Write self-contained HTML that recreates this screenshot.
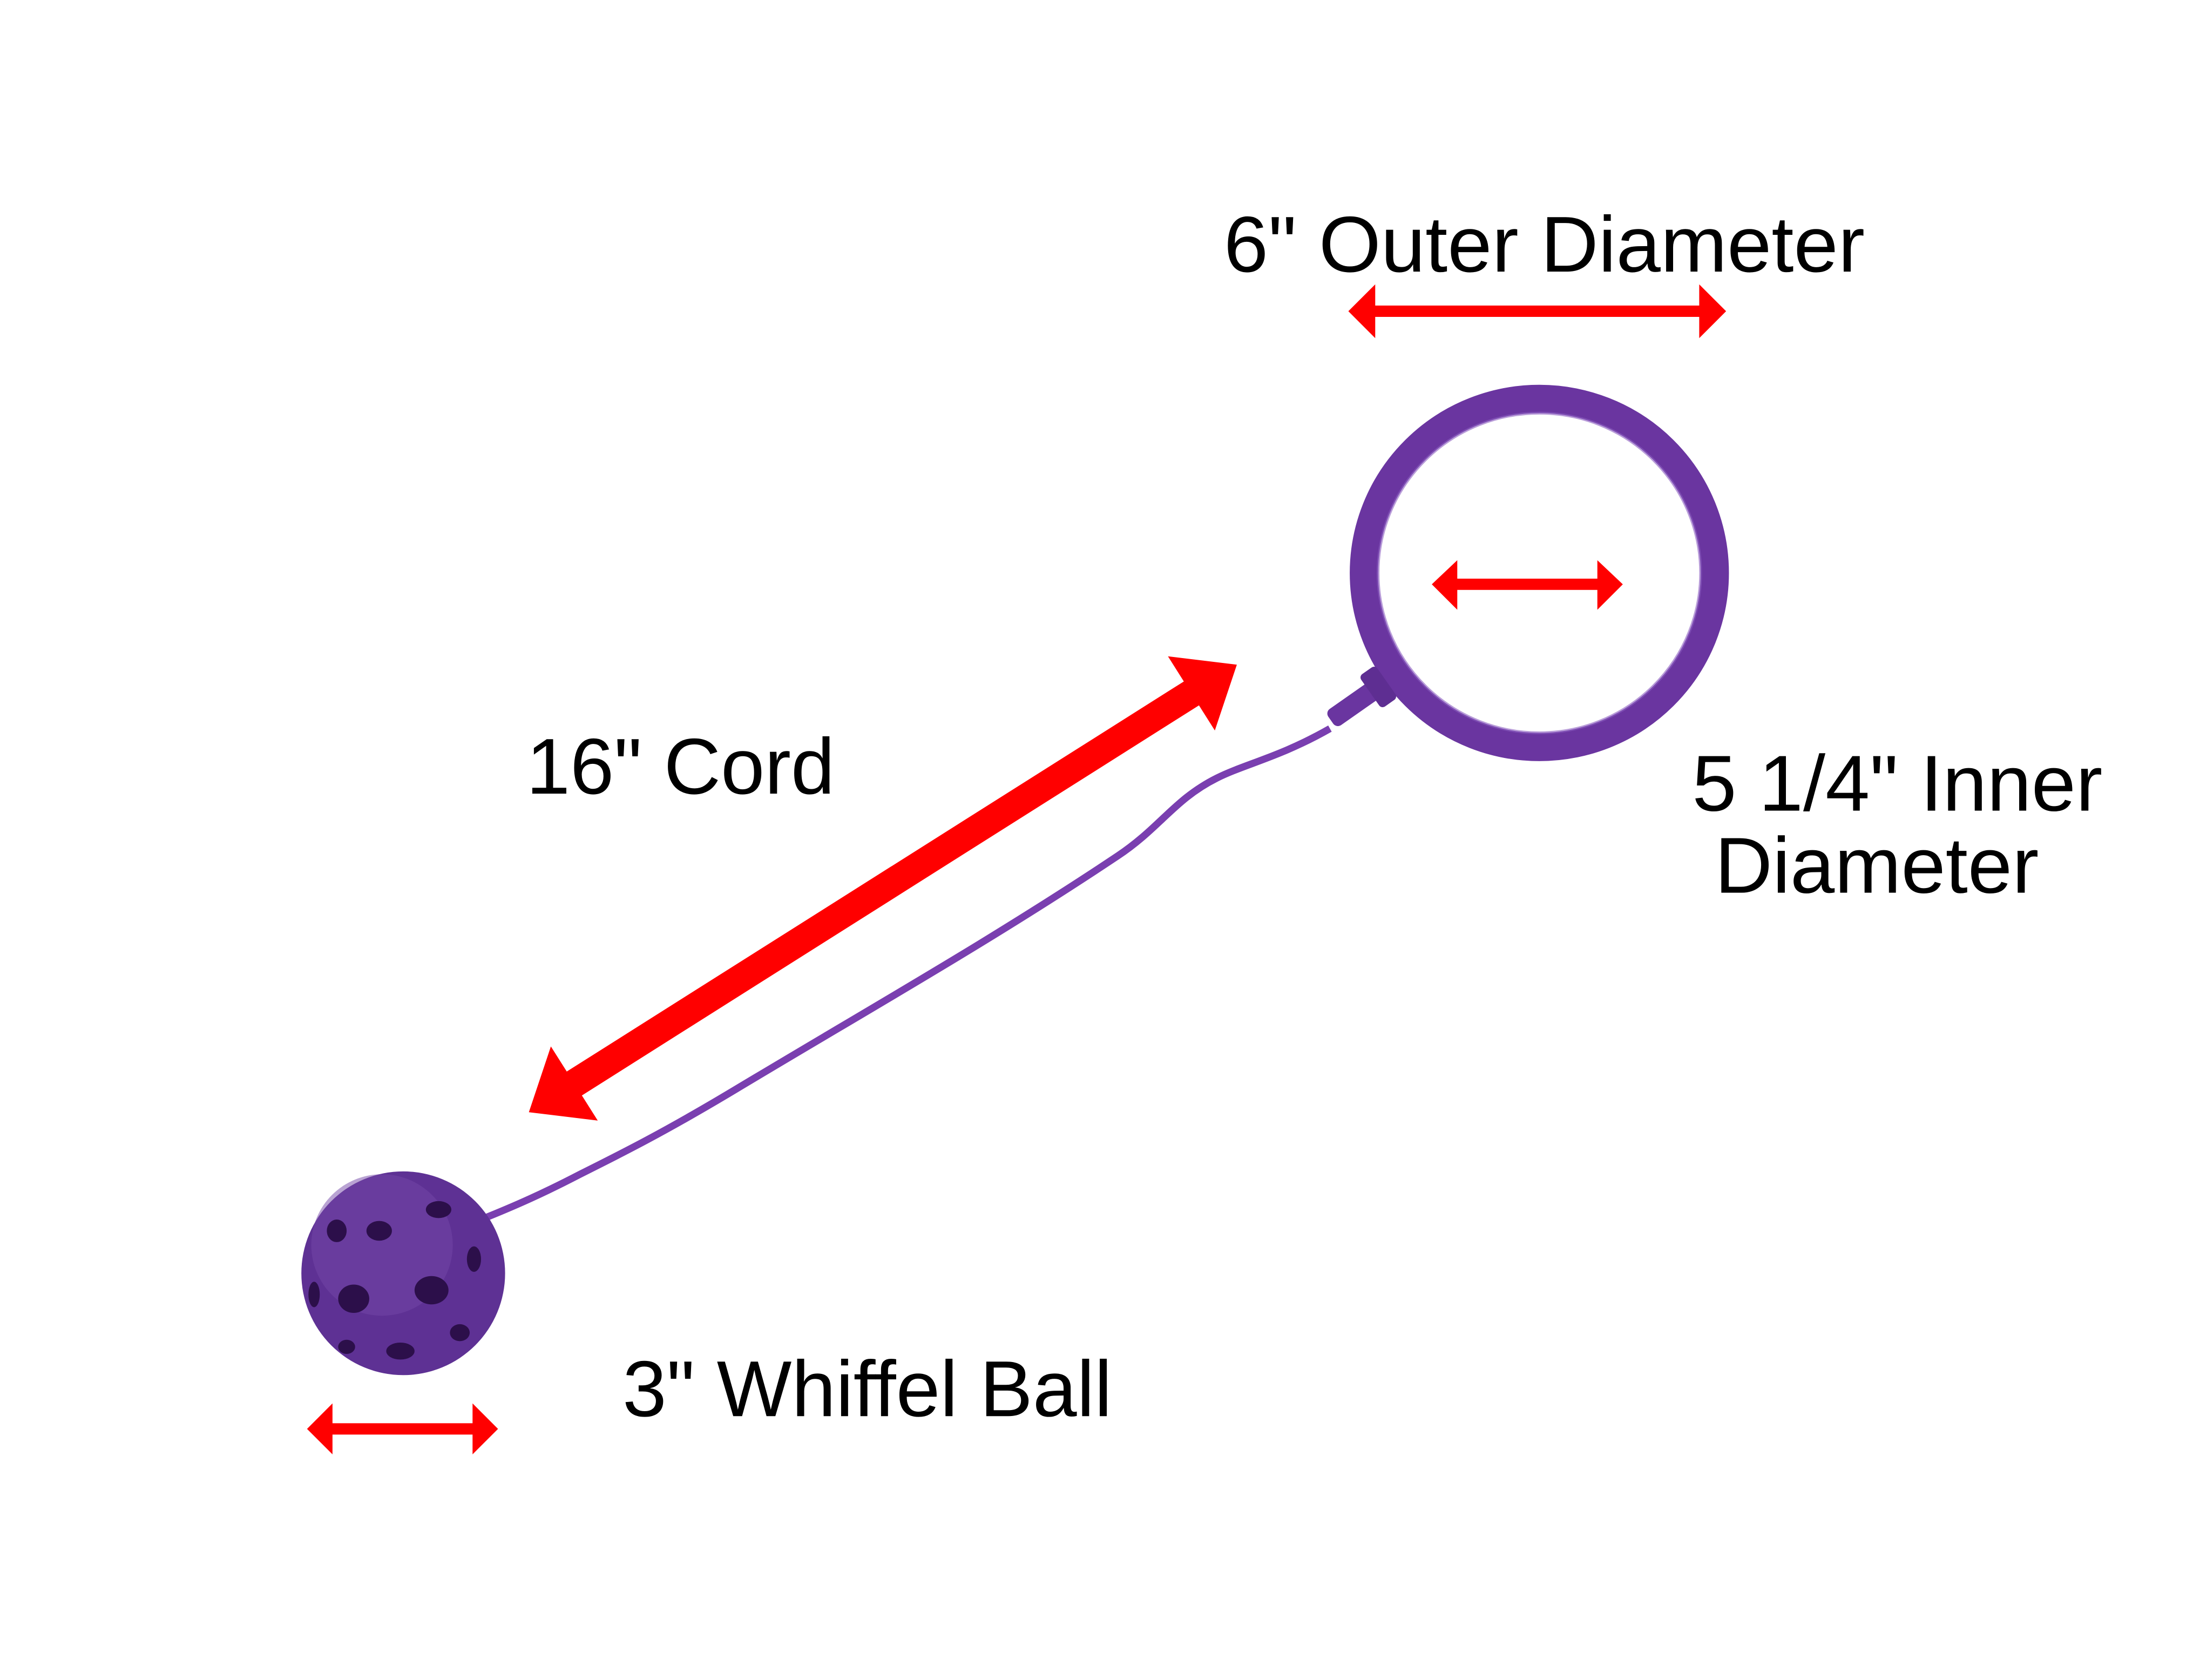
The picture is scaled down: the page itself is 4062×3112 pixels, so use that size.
<!DOCTYPE html>
<html><head><meta charset="utf-8"><style>
html,body{margin:0;padding:0;background:#fff;}
svg{display:block;}
text{font-family:"Liberation Sans",Arial,sans-serif;fill:#000;}
</style></head><body>
<svg width="4062" height="3112" viewBox="0 0 1550 1187.5" preserveAspectRatio="none" xmlns="http://www.w3.org/2000/svg">
<rect width="1550" height="1187.5" fill="#fff"/>
<!-- labels -->
<text x="865" y="192" font-size="56" textLength="453" lengthAdjust="spacingAndGlyphs">6" Outer Diameter</text>
<text x="372" y="561" font-size="56" textLength="218" lengthAdjust="spacingAndGlyphs">16" Cord</text>
<text x="1196" y="573" font-size="56" textLength="290" lengthAdjust="spacingAndGlyphs">5 1/4" Inner</text>
<text x="1212" y="631" font-size="56" textLength="229" lengthAdjust="spacingAndGlyphs">Diameter</text>
<text x="440" y="1001" font-size="56" textLength="346" lengthAdjust="spacingAndGlyphs">3" Whiffel Ball</text>
<!-- horizontal arrows -->
<g fill="#f00">
<polygon points="953,220 972,201 972,216 1201,216 1201,201 1220,220 1201,239 1201,224 972,224 972,239"/>
<polygon points="1012,413 1030,396 1030,409 1129,409 1129,396 1147,413 1129,431 1129,417 1030,417 1030,431"/>
<polygon points="217,1010 235,992 235,1006 334,1006 334,992 352,1010 334,1028 334,1014 235,1014 235,1028"/>
<!-- diagonal arrow -->
<g transform="translate(624,628) rotate(-32.3)">
<polygon points="-296,0 -258,-31 -258,-10 258,-10 258,-31 296,0 258,31 258,10 -258,10 -258,31"/>
</g>
</g>
<!-- cord -->
<path d="M940,515 C905,535 880,540 860,550 C830,565 820,585 790,605 C700,665 620,710 520,770 C470,800 440,815 410,830 C385,843 365,852 340,862" fill="none" stroke="#7a3fb0" stroke-width="5"/>
<!-- ring -->
<ellipse cx="1088" cy="405" rx="124" ry="123" fill="none" stroke="#6a35a0" stroke-width="20"/>
<ellipse cx="1088" cy="405" rx="114" ry="113" fill="none" stroke="#8a5cc0" stroke-width="2" opacity="0.6"/>
<!-- connector -->
<g transform="translate(975,485) rotate(-35)">
<rect x="-42" y="-7" width="46" height="14" rx="4" fill="#6a35a0"/>
<rect x="-8" y="-14" width="14" height="28" rx="3" fill="#5e2e92"/>
</g>
<!-- ball -->
<circle cx="285" cy="900" r="72" fill="#5e3194"/>
<circle cx="270" cy="880" r="50" fill="#7447a8" opacity="0.5"/>
<g fill="#2c0f4a">
<ellipse cx="305" cy="912" rx="12" ry="10"/>
<ellipse cx="250" cy="918" rx="11" ry="10"/>
<ellipse cx="268" cy="870" rx="9" ry="7"/>
<ellipse cx="238" cy="870" rx="7" ry="8"/>
<ellipse cx="310" cy="855" rx="9" ry="6"/>
<ellipse cx="335" cy="890" rx="5" ry="9"/>
<ellipse cx="283" cy="955" rx="10" ry="6"/>
<ellipse cx="222" cy="915" rx="4" ry="9"/>
<ellipse cx="325" cy="942" rx="7" ry="6"/>
<ellipse cx="245" cy="952" rx="6" ry="5"/>
</g>
</svg>
</body></html>
